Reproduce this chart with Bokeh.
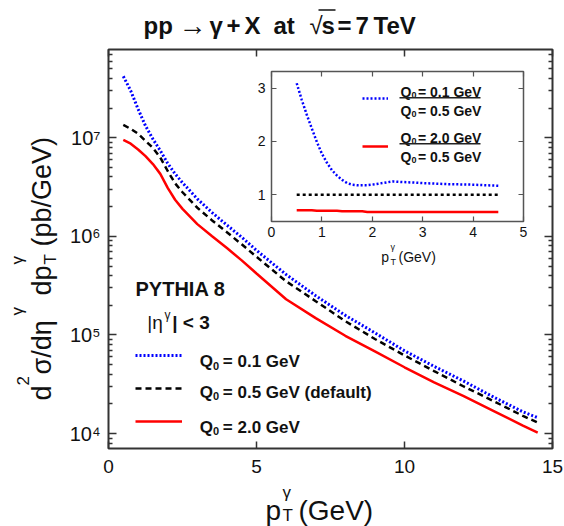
import math
from bokeh.plotting import figure
from bokeh.models import (Range1d, FixedTicker, LinearAxis, LogAxis, Label, Legend,
                          LegendItem, BoxAnnotation, CustomJSTickFormatter)
from bokeh.embed import file_html
from bokeh.resources import INLINE

FONT = "Liberation Sans"

# ---------------- data ----------------
pt = [0.5, 0.75, 1.0, 1.25, 1.5, 1.75, 2.0, 2.25, 2.5, 3.0, 3.5, 4.0, 4.5,
      5.0, 6.0, 7.0, 8.0, 9.0, 10.0, 11.0, 12.0, 13.0, 14.0, 14.5]
xsec_q01 = [4.2e7, 3.0e7, 1.95e7, 1.32e7, 9.7e6, 7.4e6, 5.5e6, 4.3e6, 3.5e6, 2.4e6,
            1.74e6, 1.3e6, 9.8e5, 7.2e5, 4.1e5, 2.5e5, 1.58e5, 1.05e5, 6.9e4, 4.8e4,
            3.4e4, 2.35e4, 1.66e4, 1.45e4]
xsec_q05 = [1.35e7, 1.23e7, 1.10e7, 9.3e6, 7.9e6, 6.3e6, 4.6e6, 3.45e6, 2.8e6, 1.95e6,
            1.45e6, 1.1e6, 8.3e5, 6.2e5, 3.5e5, 2.2e5, 1.38e5, 9.1e4, 6.2e4, 4.3e4,
            3.0e4, 2.14e4, 1.51e4, 1.29e4]
xsec_q20 = [9.5e6, 8.7e6, 7.6e6, 6.5e6, 5.4e6, 4.3e6, 3.1e6, 2.35e6, 1.9e6, 1.33e6,
            1.0e6, 7.6e5, 5.7e5, 4.2e5, 2.3e5, 1.48e5, 9.8e4, 6.8e4, 4.7e4, 3.3e4,
            2.4e4, 1.7e4, 1.2e4, 1.02e4]

ratio_pt = [0.5, 0.6, 0.7, 0.8, 0.9, 1.0, 1.1, 1.2, 1.3, 1.4, 1.5, 1.6, 1.7, 1.8,
            1.9, 2.0, 2.2, 2.4, 2.6, 2.8, 3.0, 3.5, 4.0, 4.5]
ratio_q01 = [3.09, 2.78, 2.50, 2.24, 1.99, 1.77, 1.60, 1.46, 1.36, 1.28, 1.22, 1.19,
             1.18, 1.18, 1.18, 1.19, 1.22, 1.25, 1.24, 1.23, 1.22, 1.20, 1.19, 1.17]
ratio_q20 = [0.71, 0.71, 0.71, 0.71, 0.70, 0.70, 0.70, 0.70, 0.70, 0.69, 0.69, 0.69,
             0.69, 0.69, 0.68, 0.68, 0.68, 0.68, 0.68, 0.68, 0.68, 0.68, 0.68, 0.68]
ratio_ref_pt = [0.5, 4.5]
ratio_ref = [1.0, 1.0]

x_ticks = [0, 5, 10, 15]
y_major = [10**4, 10**5, 10**6, 10**7]
y_major_labels = ["10\u2074", "10\u2075", "10\u2076", "10\u2077"]
y_minor = [m * 10**e for e in range(3, 8) for m in range(2, 10)]
inset_x_ticks = [0, 1, 2, 3, 4, 5]
inset_y_ticks = [1, 2, 3]

legend_values = ["= 0.1 GeV", "= 0.5 GeV (default)", "= 2.0 GeV"]
inset_num = ["= 0.1 GeV", "= 2.0 GeV"]
inset_den = ["= 0.5 GeV", "= 0.5 GeV"]

BLUE = "#0000ff"
RED = "#ff0000"
INK = "#111111"


def style_axis(ax, tick_in, minor_in, size, color="#333333", lw=1.5, standoff=8, hide=False):
    ax.axis_line_color = None
    ax.major_tick_in = tick_in
    ax.major_tick_out = 0
    ax.minor_tick_in = minor_in
    ax.minor_tick_out = 0
    ax.major_tick_line_color = color
    ax.minor_tick_line_color = color
    ax.major_tick_line_width = lw
    ax.minor_tick_line_width = lw
    ax.major_label_text_font = FONT
    ax.major_label_text_color = INK
    ax.major_label_text_font_size = size
    ax.major_label_standoff = 0 if hide else standoff
    if hide:
        ax.formatter = CustomJSTickFormatter(code="return ''")
    ax.axis_label = None


def txt(fig, x, y, s, size, bold=False, angle=0.0):
    fig.add_layout(Label(x=x, y=y, x_units="screen", y_units="screen", text=s,
                         text_font=FONT, text_font_size=f"{size}px",
                         text_font_style="bold" if bold else "normal",
                         text_color=INK, angle=angle, text_align="left",
                         text_baseline="alphabetic"))


def q0(fig, x, y, rest, size, sub_size, sub_dx, rest_dx, sub_drop):
    txt(fig, x, y, "Q", size, bold=True)
    txt(fig, x + sub_dx, y - sub_drop, "0", sub_size, bold=True)
    txt(fig, x + rest_dx, y, rest, size, bold=True)


def bar(fig, left, right, y, color="#222222"):
    fig.add_layout(BoxAnnotation(left=left, right=right, bottom=y - 0.75, top=y + 0.75,
                                 left_units="screen", right_units="screen",
                                 top_units="screen", bottom_units="screen",
                                 fill_color=color, fill_alpha=1.0, line_color=None))


# ---------------- background canvas for title and axis titles ----------------
bg = figure(width=564, height=526, x_range=Range1d(0, 1), y_range=Range1d(0, 1),
            x_axis_location=None, y_axis_location=None, output_backend="svg",
            toolbar_location=None, min_border=0)
bg.grid.visible = False
bg.outline_line_color = None
bg.background_fill_color = "white"
bg.border_fill_color = "white"

# title  pp -> gamma + X  at  sqrt(s) = 7 TeV
for s, x, b, fs in [("pp", 143, True, 24), ("\u2192", 178, False, 28), ("\u03b3", 209, True, 24),
                    ("+", 226, True, 24), ("X", 244, True, 24), ("at", 273, True, 24),
                    ("\u221a", 309, False, 24), ("s", 321, True, 24), ("=", 337, True, 24),
                    ("7", 355, True, 24), ("TeV", 373, True, 24)]:
    txt(bg, x, 501, s, fs, bold=b)
bar(bg, 318, 335, 516.5, color=INK)

# main x axis title
txt(bg, 265, 16, "p", 28)
txt(bg, 282, 34, "\u03b3", 17)
txt(bg, 282, 11, "T", 17)
txt(bg, 298, 16, "(GeV)", 28)

# main y axis title (rotated)
A = math.pi / 2
txt(bg, 41.7, 126, "d", 27, angle=A)
txt(bg, 22, 141, "2", 17, angle=A)
txt(bg, 41.7, 152, "\u03c3/d\u03b7", 27, angle=A)
txt(bg, 17, 211, "\u03b3", 17, angle=A)
txt(bg, 41.7, 231, "dp", 27, angle=A)
txt(bg, 17, 262, "\u03b3", 17, angle=A)
txt(bg, 50, 262, "T", 17, angle=A)
txt(bg, 41.7, 280, "(pb/GeV)", 27, angle=A)

# ---------------- main figure ----------------
p = figure(width=564, height=526, x_range=Range1d(0, 15), y_range=Range1d(7050, 7.85e7),
           y_axis_type="log", output_backend="svg", toolbar_location=None,
           min_border_left=108, min_border_right=12, min_border_top=49, min_border_bottom=78)
p.grid.visible = False
p.outline_line_color = "#333333"
p.outline_line_width = 2
p.background_fill_color = "white"
p.border_fill_color = None

xax = p.xaxis[0]
xax.ticker = FixedTicker(ticks=x_ticks)
style_axis(xax, 7, 0, "19px", standoff=11)
yax = p.yaxis[0]
yax.ticker = FixedTicker(ticks=y_major, minor_ticks=y_minor)
yax.major_label_overrides = dict(zip(y_major, y_major_labels))
style_axis(yax, 8, 4, "20px", standoff=8)

top_ax = LinearAxis(ticker=FixedTicker(ticks=x_ticks))
style_axis(top_ax, 7, 0, "19px", hide=True)
p.add_layout(top_ax, "above")
right_ax = LogAxis(ticker=FixedTicker(ticks=y_major, minor_ticks=y_minor))
style_axis(right_ax, 8, 4, "20px", hide=True)
p.add_layout(right_ax, "right")

r1 = p.line(pt, xsec_q01, line_color=BLUE, line_width=3, line_dash="2 2")
r2 = p.line(pt, xsec_q05, line_color="black", line_width=2.5, line_dash="6 4")
r3 = p.line(pt, xsec_q20, line_color=RED, line_width=2.5)

txt(p, 27, 159.7, "PYTHIA 8", 20, bold=True)
txt(p, 38.7, 126.3, "|\u03b7", 19)
txt(p, 56, 134, "\u03b3", 12)
txt(p, 63.7, 126.3, "| < 3", 19, bold=True)

leg = Legend(items=[LegendItem(label=" ", renderers=[r1]),
                    LegendItem(label=" ", renderers=[r2]),
                    LegendItem(label=" ", renderers=[r3])],
             location=(27, 17), orientation="vertical", glyph_width=47, glyph_height=20,
             label_height=20, label_standoff=0, spacing=13, padding=0, margin=0,
             border_line_color=None, background_fill_alpha=0,
             label_text_font_size="8px")
p.add_layout(leg)
for val, yb in zip(legend_values, [87, 56.3, 21.3]):
    q0(p, 91.3, yb, val, 17, 11, 13.2, 23, 4)

# inset x axis title (drawn inside the main frame, below the inset box)
txt(p, 272.7, 192, "p", 14)
txt(p, 282, 202, "\u03b3", 9)
txt(p, 282, 187, "T", 9)
txt(p, 290, 192, "(GeV)", 14)

p.styles = {"position": "absolute", "left": "0px", "top": "0px", "z-index": "5"}

# ---------------- inset ----------------
inset = figure(width=292, height=205, x_range=Range1d(0, 5),
               y_range=Range1d(0.5, 3.31), output_backend="svg", toolbar_location=None,
               min_border_left=35, min_border_right=5, min_border_top=5, min_border_bottom=50)
inset.grid.visible = False
inset.outline_line_color = "#555555"
inset.outline_line_width = 1.5
inset.background_fill_color = None
inset.border_fill_color = None

ix = inset.xaxis[0]
ix.ticker = FixedTicker(ticks=inset_x_ticks)
style_axis(ix, 5, 0, "14px", color="#555555", lw=1.2, standoff=5)
iy = inset.yaxis[0]
iy.ticker = FixedTicker(ticks=inset_y_ticks)
style_axis(iy, 5, 0, "14px", color="#555555", lw=1.2, standoff=6)
it = LinearAxis(ticker=FixedTicker(ticks=inset_x_ticks))
style_axis(it, 5, 0, "14px", color="#555555", lw=1.2, hide=True)
inset.add_layout(it, "above")
ir = LinearAxis(ticker=FixedTicker(ticks=inset_y_ticks))
style_axis(ir, 5, 0, "14px", color="#555555", lw=1.2, hide=True)
inset.add_layout(ir, "right")

ri1 = inset.line(ratio_pt, ratio_q01, line_color=BLUE, line_width=2.5, line_dash="2 2")
inset.line(ratio_ref_pt, ratio_ref, line_color="black", line_width=2.5, line_dash="3 3")
ri2 = inset.line(ratio_pt, ratio_q20, line_color=RED, line_width=2.5)

for num, den, yn, yd in zip(inset_num, inset_den, [129.3, 83.3], [110.3, 64.3]):
    q0(inset, 129, yn, num, 14, 9, 10.9, 17.5, 3)
    q0(inset, 129, yd, den, 14, 9, 10.9, 17.5, 3)

ileg = Legend(items=[LegendItem(label=" ", renderers=[ri1]),
                     LegendItem(label=" ", renderers=[ri2])],
              location=(90.5, 67.3), orientation="vertical", glyph_width=26, glyph_height=16,
              label_height=16, label_standoff=0, spacing=32, padding=0,
              margin=0, border_line_color=None, background_fill_alpha=0,
              label_text_font_size="8px")
inset.add_layout(ileg)

bar(inset, 128, 209, 123.7)
bar(inset, 128, 209, 77.7)

inset.styles = {"position": "absolute", "left": "236px", "top": "66px", "z-index": "10"}

with open("out.html", "w") as f:
    f.write(file_html([bg, p, inset], INLINE))
